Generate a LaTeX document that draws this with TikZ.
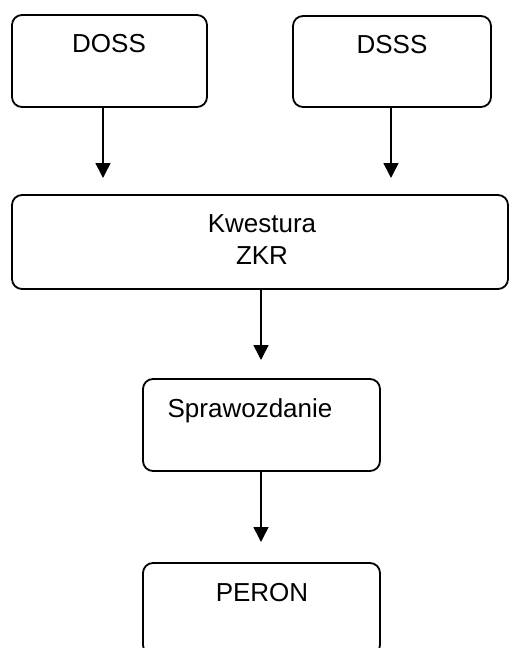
\documentclass[tikz,border=0pt]{standalone}
\usepackage{fontspec}
\setmainfont{Liberation Sans}
\usetikzlibrary{arrows.meta}

\begin{document}
\begin{tikzpicture}[x=0.5pt,y=-0.5pt,
  box/.style={draw,line width=0.9pt,rounded corners=5pt,inner sep=0pt},
  txt/.style={anchor=base,inner sep=0pt,font=\fontsize{13}{15}\selectfont},
  arr/.style={line width=0.8pt,-{Triangle[length=7.5pt,width=7.5pt]}}]
  \useasboundingbox (0,0) rectangle (509,648);
  % boxes
  \node[box,minimum width=97.5pt,minimum height=46pt] (doss) at (109.5,61) {};
  \node[box,minimum width=99pt,minimum height=45.5pt] (dsss) at (392,61.5) {};
  \node[box,minimum width=248pt,minimum height=47pt] (kwestura) at (260,242) {};
  \node[box,minimum width=118.5pt,minimum height=46pt] (sprawozdanie) at (261.5,425) {};
  \node[box,minimum width=118.5pt,minimum height=46pt] (peron) at (261.5,609) {};
  % texts
  \node[txt] (dosstxt) at (109,53) {DOSS};
  \node[txt] (dssstxt) at (392,54) {DSSS};
  \node[txt] (kwtxt) at (262,232) {Kwestura};
  \node[txt] (zkrtxt) at (262,264) {ZKR};
  \node[txt] (sprtxt) at (250,417) {Sprawozdanie};
  \node[txt] (perontxt) at (262,601) {PERON};
  % arrows
  \coordinate (dossend) at (103,178);
  \coordinate (dsssend) at (391,178);
  \coordinate (kwend) at (261,360);
  \coordinate (sprend) at (261,542);
  \draw[arr] (doss.south -| dossend) -- (dossend);
  \draw[arr] (dsss.south -| dsssend) -- (dsssend);
  \draw[arr] (kwestura.south -| kwend) -- (kwend);
  \draw[arr] (sprawozdanie.south -| sprend) -- (sprend);
\end{tikzpicture}
\end{document}
